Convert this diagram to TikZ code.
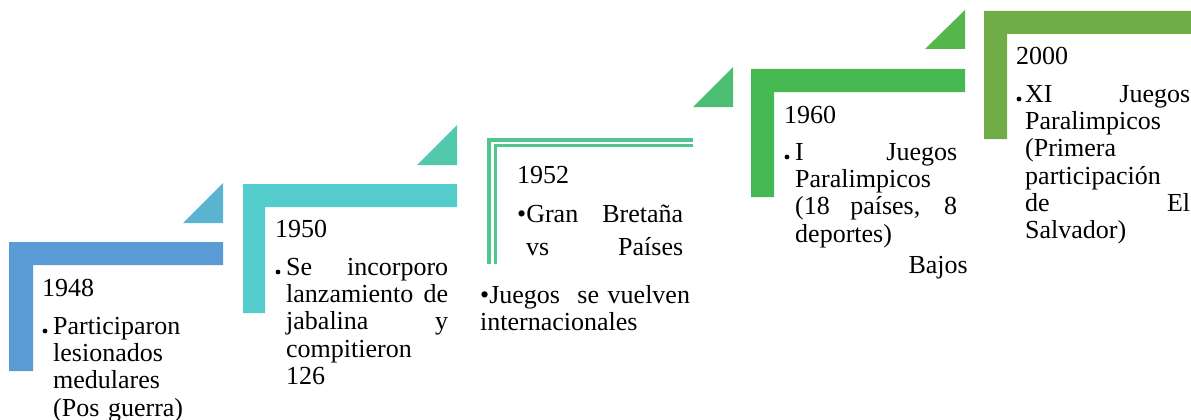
\documentclass[tikz,border=0pt]{standalone}
\usepackage{fontspec}
\setmainfont{Liberation Serif}
\definecolor{cbarA}{HTML}{5B9BD5}
\definecolor{ctriA}{HTML}{5AB4D0}
\definecolor{cbarB}{HTML}{54CCCB}
\definecolor{ctriB}{HTML}{52C8AD}
\definecolor{clineC}{HTML}{4EC68C}
\definecolor{ctriC}{HTML}{4CBE73}
\definecolor{cbarD}{HTML}{47B952}
\definecolor{ctriD}{HTML}{55B74B}
\definecolor{cbarE}{HTML}{70AD47}
\tikzset{
  txt/.style={inner sep=0pt, anchor=base west, align=left, font=\fontsize{26}{27.4}\selectfont},
  yr/.style={inner sep=0pt, anchor=base west, font=\fontsize{26}{27.4}\selectfont},
  dotb/.style={fill=black, draw=none},
}
\newcommand{\jst}[2]{\leavevmode\hbox to #1pt{\spaceskip=0.25em plus 1fil\relax\xspaceskip=0.25em plus 1fil\relax #2}}
\begin{document}
\begin{tikzpicture}[x=1pt,y=-1pt]
\useasboundingbox (0,0) rectangle (1191,420);
% step 1
\fill[cbarA] (9,242) -- (223,242) -- (223,265) -- (33,265) -- (33,371) -- (9,371) -- cycle;
\fill[ctriA] (183,223) -- (223,223) -- (223,183) -- cycle;
% step 2
\fill[cbarB] (243,184) -- (457,184) -- (457,207) -- (265,207) -- (265,313) -- (243,313) -- cycle;
\fill[ctriB] (417,165) -- (457,165) -- (457,125) -- cycle;
% step 3
\draw[clineC, line width=4pt] (489,264) -- (489,140) -- (693,140);
\draw[clineC, line width=3pt] (495,264) -- (495,145.5) -- (693,145.5);
\fill[ctriC] (693,107) -- (733,107) -- (733,67) -- cycle;
% step 4
\fill[cbarD] (751,69) -- (965,69) -- (965,92) -- (774,92) -- (774,197) -- (751,197) -- cycle;
\fill[ctriD] (925,49) -- (965,49) -- (965,10) -- cycle;
% step 5
\fill[cbarE] (984,11) -- (1191,11) -- (1191,34) -- (1007,34) -- (1007,139) -- (984,139) -- cycle;

% texts step 1
\node[yr] (y1) at (42,296) {1948};
\fill[dotb] (45,331) circle (2.4);
\node[txt, text width=163] (t1) at (53,334) {Participaron\\lesionados\\medulares\\(Pos guerra)};
% step 2
\node[yr] (y2) at (275,237) {1950};
\fill[dotb] (278,272) circle (2.4);
\node[txt, text width=162] (t2) at (286,275) {\jst{162}{Se incorporo}\\\jst{162}{lanzamiento de}\\\jst{162}{jabalina y}\\compitieron\\126};
% step 3
\node[yr] (y3) at (517,183) {1952};
\node[txt, text width=166] (t3a) at (517,222) {\jst{166}{•Gran Bretaña}};
\node[txt, text width=157] (t3b) at (526,255) {\jst{157}{vs Países}};
\node[inner sep=0pt, anchor=base east, font=\fontsize{26}{27.4}\selectfont] (t3c) at (968,273) {Bajos};
\node[txt, text width=210] (t3d) at (480,303) {•Juegos\ \ se vuelven\\internacionales};
% step 4
\node[yr] (y4) at (784,123) {1960};
\fill[dotb] (787,157) circle (2.4);
\node[txt, text width=162] (t4) at (795,160) {\jst{162}{I Juegos}\\Paralimpicos\\\jst{162}{(18 países, 8}\\deportes)};
% step 5
\node[yr] (y5) at (1016,65) {2000};
\fill[dotb] (1019,99) circle (2.4);
\node[txt, text width=165] (t5) at (1025,102) {\jst{165}{XI Juegos}\\Paralimpicos\\(Primera\\participación\\\jst{165}{de El}\\Salvador)};
\end{tikzpicture}
\end{document}
